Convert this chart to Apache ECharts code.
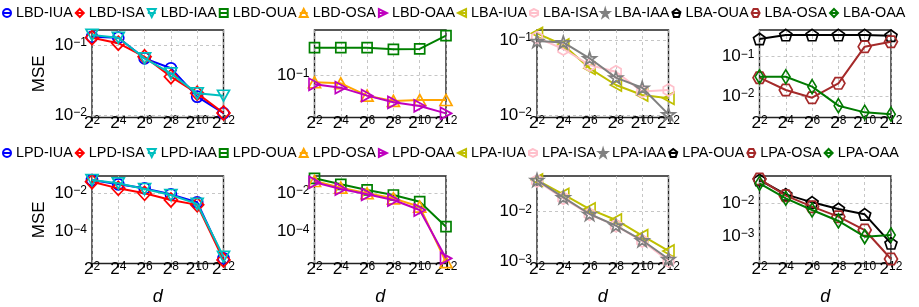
<!DOCTYPE html>
<html><head><meta charset="utf-8">
<script src="https://cdn.jsdelivr.net/npm/echarts@6/dist/echarts.min.js"></script>
<style>html,body{margin:0;padding:0;background:#fff}#c{width:919px;height:307px}</style>
</head><body><div id="c"></div>
<script>
// ---- data ----
const dValues = [4, 16, 64, 256, 1024, 4096];
const xTickExp = ['2', '4', '6', '8', '10', '12'];

// Row 1
const LBD_IUA = [0.131, 0.127, 0.0646, 0.0466, 0.0184, 0.0107];
const LBD_ISA = [0.127, 0.106, 0.068, 0.0354, 0.0205, 0.0108];
const LBD_IAA = [0.139, 0.127, 0.0646, 0.0395, 0.0205, 0.019];
const LBD_OUA = [0.304, 0.304, 0.304, 0.285, 0.289, 0.49];
const LBD_OSA = [0.0769, 0.0739, 0.0453, 0.0367, 0.0381, 0.0381];
const LBD_OAA = [0.071, 0.0622, 0.0453, 0.0347, 0.0301, 0.0224];
const LBA_IUA = [0.1227, 0.0858, 0.0419, 0.0251, 0.0185, 0.0167];
const LBA_ISA = [0.1074, 0.0759, 0.0464, 0.0378, 0.0205, 0.0216];
const LBA_IAA = [0.097, 0.093, 0.057, 0.0315, 0.0231, 0.0102];
const LBA_OUA = [0.282, 0.356, 0.356, 0.356, 0.356, 0.343];
const LBA_OSA = [0.0293, 0.0142, 0.00907, 0.021, 0.18, 0.241];
const LBA_OAA = [0.031, 0.031, 0.0173, 0.00568, 0.00384, 0.00342];
// Row 2
const LPD_IUA = [0.0493, 0.0293, 0.0181, 0.00883, 0.0034, 4.1e-6];
const LPD_ISA = [0.0404, 0.0181, 0.01, 0.00448, 0.0025, 3.4e-6];
const LPD_IAA = [0.0493, 0.033, 0.0167, 0.00815, 0.0028, 5e-6];
const LPD_OUA = [0.0603, 0.0293, 0.0149, 0.00815, 0.00366, 0.000183];
const LPD_OSA = [0.0438, 0.0196, 0.01, 0.00547, 0.00201, 2.6e-6];
const LPD_OAA = [0.0372, 0.0167, 0.00883, 0.00448, 0.00135, 4.1e-6];
const LPA_IUA = [0.043, 0.0222, 0.0113, 0.00683, 0.00332, 0.00164];
const LPA_ISA = [0.0411, 0.0185, 0.00886, 0.00526, 0.00259, 0.00103];
const LPA_IAA = [0.043, 0.0194, 0.009, 0.00526, 0.00268, 0.00113];
const LPA_OUA = [0.0516, 0.0188, 0.0107, 0.0067, 0.0046, 0.000597];
const LPA_OSA = [0.055, 0.0171, 0.00789, 0.0039, 0.00152, 0.000198];
const LPA_OAA = [0.0408, 0.0142, 0.00624, 0.00288, 0.000955, 0.00107];

const row1Names = ['LBD-IUA','LBD-ISA','LBD-IAA','LBD-OUA','LBD-OSA','LBD-OAA','LBA-IUA','LBA-ISA','LBA-IAA','LBA-OUA','LBA-OSA','LBA-OAA'];
const row2Names = ['LPD-IUA','LPD-ISA','LPD-IAA','LPD-OUA','LPD-OSA','LPD-OAA','LPA-IUA','LPA-ISA','LPA-IAA','LPA-OUA','LPA-OSA','LPA-OAA'];

// y tick (decade exponents) labels per panel
const yTicks = [[-1,-2],[-1],[-1,-2],[-1,-2],[-2,-4],[-2,-4],[-2,-3],[-2,-3]];
const yRange = [[0.0093,0.1634],[0.019,0.614],[0.00926,0.136],[0.00284,0.478],[2.21e-6,0.0796],[2.21e-6,0.0796],[0.00092,0.0518],[0.000144,0.0684]];

// ---- styles ----
const FONT = 'Liberation Sans, Arial, Helvetica, sans-serif';
const hexPointy = 'path://M0,-1L-0.866,-0.5L-0.866,0.5L0,1L0.866,0.5L0.866,-0.5Z';
const hexFlat = 'path://M1,0L0.5,0.866L-0.5,0.866L-1,0L-0.5,-0.866L0.5,-0.866Z';
const pentagon = 'path://M0,-1L0.951,-0.309L0.588,0.809L-0.588,0.809L-0.951,-0.309Z';
const star = (function(){let p='path://';for(let i=0;i<10;i++){const r=i%2?0.382:1;const a=-Math.PI/2+i*Math.PI/5;p+=(i?'L':'M')+(r*Math.cos(a)).toFixed(3)+','+(r*Math.sin(a)).toFixed(3);}return p+'Z';})();
const styles = [
  {color:'#0000ff', symbol:'circle', size:11, rot:0},
  {color:'#ff0000', symbol:'diamond', size:[13,14], rot:0},
  {color:'#00bfbf', symbol:'triangle', size:[12,11], rot:180},
  {color:'#008000', symbol:'rect', size:10, rot:0},
  {color:'#ffa500', symbol:'triangle', size:[12,11], rot:0},
  {color:'#bf00bf', symbol:'triangle', size:[12,11], rot:-90},
  {color:'#bfbf00', symbol:'triangle', size:[12,11], rot:90},
  {color:'#ffc0cb', symbol:hexPointy, size:12, rot:0},
  {color:'#808080', symbol:star, size:13, rot:0},
  {color:'#000000', symbol:pentagon, size:12, rot:0},
  {color:'#a52a2a', symbol:hexFlat, size:13, rot:0},
  {color:'#007a00', symbol:'diamond', size:[8.5,14], rot:0}
];

const panels = [
  {names:['LBD-IUA','LBD-ISA','LBD-IAA'], data:[LBD_IUA,LBD_ISA,LBD_IAA], st:[0,1,2]},
  {names:['LBD-OUA','LBD-OSA','LBD-OAA'], data:[LBD_OUA,LBD_OSA,LBD_OAA], st:[3,4,5]},
  {names:['LBA-IUA','LBA-ISA','LBA-IAA'], data:[LBA_IUA,LBA_ISA,LBA_IAA], st:[6,7,8]},
  {names:['LBA-OUA','LBA-OSA','LBA-OAA'], data:[LBA_OUA,LBA_OSA,LBA_OAA], st:[9,10,11]},
  {names:['LPD-IUA','LPD-ISA','LPD-IAA'], data:[LPD_IUA,LPD_ISA,LPD_IAA], st:[0,1,2]},
  {names:['LPD-OUA','LPD-OSA','LPD-OAA'], data:[LPD_OUA,LPD_OSA,LPD_OAA], st:[3,4,5]},
  {names:['LPA-IUA','LPA-ISA','LPA-IAA'], data:[LPA_IUA,LPA_ISA,LPA_IAA], st:[6,7,8]},
  {names:['LPA-OUA','LPA-OSA','LPA-OAA'], data:[LPA_OUA,LPA_OSA,LPA_OAA], st:[9,10,11]}
];

const colLeft = [92, 314.5, 537, 759.5];
const rowTop = [30, 176];
const gw = 131.5, gh = 87.5;

const rich = {
  b: {fontSize:17, lineHeight:17, padding:[5,0,0,0], verticalAlign:'bottom', fontFamily:FONT, color:'#000'},
  s: {fontSize:12, lineHeight:14, verticalAlign:'top', fontFamily:FONT, color:'#000'}
};

const grids = [], xAxes = [], yAxes = [], series = [];
panels.forEach((p, i) => {
  const row = Math.floor(i / 4), col = i % 4;
  grids.push({left: colLeft[col], top: rowTop[row], width: gw, height: gh, show: true, borderColor: '#222', borderWidth: 1.4, backgroundColor: 'transparent'});
  xAxes.push({
    type: 'category', gridIndex: i, data: dValues, boundaryGap: false,
    axisLine: {show: false},
    axisTick: {show: true, length: 4, alignWithLabel: true, lineStyle: {color: '#222', width: 1}},
    axisLabel: {interval: 0, margin: -3, rich: rich, formatter: (v, idx) => '{b|2}{s|' + xTickExp[idx] + '}'},
    splitLine: {show: true, lineStyle: {type: [3, 3], color: '#b8b8b8', width: 0.8}},
    name: row === 1 ? 'd' : '', nameLocation: 'middle', nameGap: 24,
    nameTextStyle: {fontSize: 18, fontStyle: 'italic', fontFamily: FONT, color: '#000'}
  });
  const ticks = yTicks[i];
  yAxes.push({
    type: 'log', logBase: 10, gridIndex: i, min: yRange[i][0], max: yRange[i][1],
    axisLine: {show: false}, axisTick: {show: false}, splitLine: {show: false},
    axisLabel: {margin: 5, rich: rich, showMinLabel: true, showMaxLabel: true, formatter: v => {
      const l = Math.log10(v); const e = Math.round(l);
      if (Math.abs(l - e) > 1e-6 || ticks.indexOf(e) < 0) return '';
      return '{b|10}{s|' + (e < 0 ? '\u2212' : '') + Math.abs(e) + '}';
    }},
    name: col === 0 ? 'MSE' : '', nameLocation: 'middle', nameGap: 44, nameRotate: 90,
    nameTextStyle: {fontSize: 17, fontFamily: FONT, color: '#000'}
  });
  p.names.forEach((nm, k) => {
    const s = styles[p.st[k]];
    const ser = {
      name: nm, type: 'line', xAxisIndex: i, yAxisIndex: i, data: p.data[k],
      symbol: s.symbol, symbolSize: s.size, symbolRotate: s.rot, symbolKeepAspect: true, showAllSymbol: true,
      lineStyle: {color: s.color, width: 2},
      itemStyle: {color: 'rgba(255,255,255,0)', borderColor: s.color, borderWidth: 1.7},
      emphasis: {disabled: true}, z: 3 + k
    };
    if (k === 0) {
      ser.markLine = {silent: true, symbol: ['none', 'none'], z: 1, animation: false, label: {show: false},
        lineStyle: {type: [3, 3], color: '#b8b8b8', width: 0.8},
        emphasis: {disabled: true},
        data: ticks.map(e => ({yAxis: Math.pow(10, e)}))};
    }
    series.push(ser);
  });
});

const legendCommon = {left: 2, padding: 0, itemWidth: 8, itemHeight: 10, itemGap: 2, selectedMode: false,
  textStyle: {fontSize: 14.4, fontFamily: FONT, color: '#000', lineHeight: 17}};

const chart = echarts.init(document.getElementById('c'), null, {renderer: 'canvas'});
chart.setOption({
  animation: false,
  backgroundColor: '#fff',
  legend: [Object.assign({data: row1Names, top: 4.5}, legendCommon), Object.assign({data: row2Names, top: 144.5}, legendCommon)],
  grid: grids, xAxis: xAxes, yAxis: yAxes, series: series
});
</script></body></html>
